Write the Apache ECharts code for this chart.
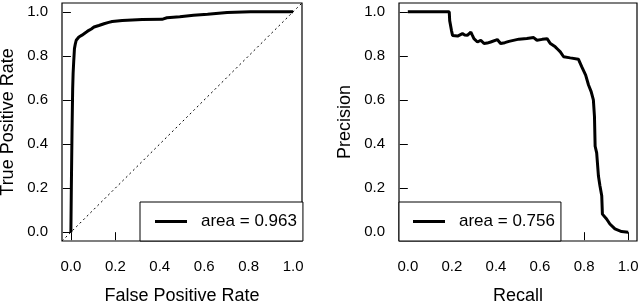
<!DOCTYPE html>
<html>
<head>
<meta charset="utf-8">
<script src="https://cdn.jsdelivr.net/npm/echarts@6/dist/echarts.min.js"></script>
<style>
html,body{margin:0;padding:0;background:#fff;}
#c{width:640px;height:302px;}
</style>
</head>
<body>
<div id="c"></div>
<script>
// ROC curve
const rocFpr = [0, 0.002, 0.005, 0.008, 0.010, 0.013, 0.016, 0.020, 0.024, 0.036, 0.050, 0.059, 0.070, 0.081, 0.092, 0.104, 0.126, 0.149, 0.170, 0.186, 0.231, 0.276, 0.321, 0.410, 0.432, 0.490, 0.552, 0.615, 0.703, 0.808, 1.0];
const rocTpr = [0, 0.20, 0.45, 0.65, 0.72, 0.78, 0.833, 0.855, 0.871, 0.886, 0.894, 0.900, 0.908, 0.916, 0.922, 0.931, 0.938, 0.946, 0.952, 0.956, 0.961, 0.963, 0.965, 0.966, 0.973, 0.978, 0.984, 0.989, 0.997, 1.0, 1.0];
const rocLabel = 'area = 0.963';

// Precision-recall curve
const prRecall = [0, 0.188, 0.190, 0.196, 0.198, 0.203, 0.226, 0.248, 0.258, 0.270, 0.286, 0.292, 0.300, 0.316, 0.331, 0.346, 0.360, 0.376, 0.406, 0.421, 0.440, 0.459, 0.504, 0.540, 0.571, 0.586, 0.610, 0.632, 0.647, 0.669, 0.680, 0.692, 0.707, 0.737, 0.774, 0.789, 0.807, 0.820, 0.832, 0.842, 0.847, 0.850, 0.857, 0.865, 0.872, 0.880, 0.883, 0.902, 0.917, 0.940, 0.970, 1.0];
const prPrecision = [1.0, 1.0, 0.960, 0.955, 0.916, 0.893, 0.890, 0.901, 0.895, 0.893, 0.908, 0.895, 0.878, 0.863, 0.871, 0.856, 0.858, 0.863, 0.874, 0.856, 0.860, 0.866, 0.876, 0.879, 0.883, 0.871, 0.875, 0.878, 0.856, 0.841, 0.830, 0.818, 0.796, 0.791, 0.785, 0.751, 0.713, 0.668, 0.638, 0.600, 0.525, 0.390, 0.360, 0.255, 0.210, 0.165, 0.082, 0.060, 0.037, 0.015, 0.003, 0.0];
const prLabel = 'area = 0.756';

// Chance diagonal (abline 0,1 across full plot region)
const diagX = [-0.04, 1.04];
const diagY = [-0.04, 1.04];

const tickValues = [0, 0.2, 0.4, 0.6, 0.8, 1.0];
const xNames = ['False Positive Rate', 'Recall'];
const yNames = ['True Positive Rate', 'Precision'];

const FONT = 'Liberation Sans, Arial, Helvetica, sans-serif';
const zip = (a, b) => a.map((v, i) => [v, b[i]]);

function xAxisFor(i, name) {
  return {
    gridIndex: i, type: 'value', min: -0.04, max: 1.04,
    name: name, nameLocation: 'middle', nameGap: 46,
    nameTextStyle: {fontSize: 18, color: '#000', fontFamily: FONT},
    axisLine: {show: false},
    axisTick: {show: true, length: 8, customValues: tickValues, lineStyle: {color: '#000', width: 1}},
    axisLabel: {customValues: tickValues, formatter: v => v.toFixed(1), fontSize: 15, margin: 18, color: '#000', fontFamily: FONT},
    splitLine: {show: false}
  };
}
function yAxisFor(i, name) {
  return {
    gridIndex: i, type: 'value', min: -0.04, max: 1.04,
    name: name, nameLocation: 'middle', nameGap: 45,
    nameTextStyle: {fontSize: 18, color: '#000', fontFamily: FONT},
    axisLine: {show: false},
    axisTick: {show: true, length: 8, customValues: tickValues, lineStyle: {color: '#000', width: 1}},
    axisLabel: {customValues: tickValues, formatter: v => v.toFixed(1), fontSize: 15, margin: 14, color: '#000', fontFamily: FONT},
    splitLine: {show: false}
  };
}
function legendFor(left, name, padLeft, textPad) {
  return {
    left: left, top: 202, orient: 'horizontal',
    data: [name],
    icon: 'rect', itemWidth: 32, itemHeight: 3,
    padding: [11, 6, 11, padLeft],
    borderColor: '#000', borderWidth: 1, borderRadius: 0,
    backgroundColor: '#fff',
    selectedMode: false,
    textStyle: {fontSize: 17, color: '#000', fontFamily: FONT, padding: [0, 0, 0, textPad]}
  };
}

const chart = echarts.init(document.getElementById('c'), null, {renderer: 'canvas'});
chart.setOption({
  animation: false,
  backgroundColor: '#fff',
  textStyle: {fontFamily: FONT},
  grid: [
    {left: 62, top: 3, width: 240, height: 238, outerBoundsMode: 'none', containLabel: false, show: true, borderColor: '#000', borderWidth: 1.2, backgroundColor: 'transparent'},
    {left: 399, top: 3, width: 238, height: 238, outerBoundsMode: 'none', containLabel: false, show: true, borderColor: '#000', borderWidth: 1.2, backgroundColor: 'transparent'}
  ],
  xAxis: [xAxisFor(0, xNames[0]), xAxisFor(1, xNames[1])],
  yAxis: [yAxisFor(0, yNames[0]), yAxisFor(1, yNames[1])],
  legend: [legendFor(140, rocLabel, 15, 9), legendFor(399, prLabel, 14, 9)],
  series: [
    {
      name: 'diag', type: 'line', xAxisIndex: 0, yAxisIndex: 0,
      data: zip(diagX, diagY), showSymbol: false, symbol: 'none',
      lineStyle: {color: '#000', width: 1, type: [2, 3]}, silent: true
    },
    {
      name: rocLabel, type: 'line', xAxisIndex: 0, yAxisIndex: 0,
      data: zip(rocFpr, rocTpr), showSymbol: false, symbol: 'none',
      itemStyle: {color: '#000'},
      lineStyle: {color: '#000', width: 3}, silent: true
    },
    {
      name: prLabel, type: 'line', xAxisIndex: 1, yAxisIndex: 1,
      data: zip(prRecall, prPrecision), showSymbol: false, symbol: 'none',
      itemStyle: {color: '#000'},
      lineStyle: {color: '#000', width: 3}, silent: true
    }
  ]
});
</script>
</body>
</html>
